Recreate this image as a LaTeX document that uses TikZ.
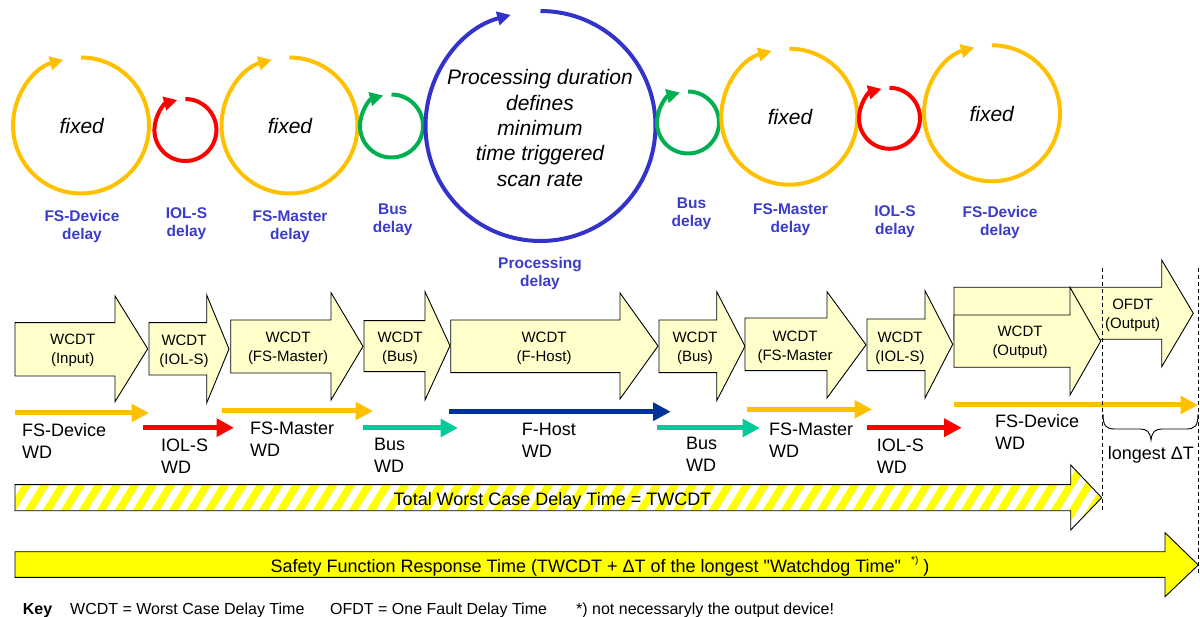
\documentclass[tikz,border=0pt]{standalone}
\usepackage{fontspec}
\setmainfont{Liberation Sans}[Ligatures=TeXOff]
\usetikzlibrary{arrows.meta}

\definecolor{gold}{HTML}{FFC000}
\definecolor{loopred}{HTML}{FF0000}
\definecolor{loopgreen}{HTML}{00B050}
\definecolor{loopblue}{HTML}{3333CC}
\definecolor{labelblue}{HTML}{3B3BCC}
\definecolor{busteal}{HTML}{00CC99}
\definecolor{hostnavy}{HTML}{003399}
\definecolor{paleyellow}{HTML}{FFFFCC}
\definecolor{brightyellow}{HTML}{FFFF00}

\newcommand\fsz[2]{\fontsize{#1}{#2}\selectfont}

% circular "cycle" arrow: name, centre x, centre y, radius, colour
\newcommand\loopcircle[5]{%
  \coordinate (#1) at (#2,#3);
  \draw[loop arrow, #5] ([shift={(90:#4pt)}]#1) arc[start angle=90, end angle=-255, radius=#4pt];
}

% block arrow: style, left, body top, body bottom, head base, head top, head bottom, tip x, tip y
\newcommand\blockarrow[9]{%
  \draw[#1] (#2,#3) -- (#5,#3) -- (#5,#6) -- (#8,#9) -- (#5,#7) -- (#5,#4) -- (#2,#4) -- cycle;
}

\tikzset{
  loop arrow/.style={line width=4pt, -{Triangle[length=13.5pt,width=13.5pt]}},
  delay label/.style={text=labelblue, font=\fsz{15.5}{18}\bfseries, align=center, inner sep=0pt},
  inner italic/.style={font=\fsz{21}{25.3}\itshape, align=center, inner sep=0pt},
  wcdt arrow/.style={draw=black, fill=paleyellow, line width=0.9pt, line join=miter},
  arrow text/.style={font=\fsz{15}{19}, align=center, inner sep=0pt},
  wd arrow/.style={line width=5pt, -{Triangle[length=17.5pt,width=17.5pt]}},
  wd label/.style={font=\fsz{18}{22}, align=left, anchor=west, inner sep=0pt},
  bar text/.style={font=\fsz{18}{22}, anchor=base, inner sep=0pt},
  key text/.style={font=\fsz{16}{19}, anchor=base west, inner sep=0pt},
  guide/.style={line width=0.8pt, dash pattern=on 4pt off 3pt},
}

\begin{document}
\begin{tikzpicture}[x=1pt, y=-1pt]
\useasboundingbox (0,0) rectangle (1200,617);

% ---- delay cycles ----
\loopcircle{fsdev1}{81}{125.5}{68}{gold}
\loopcircle{iols1}{185.4}{130}{31}{loopred}
\loopcircle{fsmas1}{289.5}{125.5}{68}{gold}
\loopcircle{bus1}{391.5}{126}{31.5}{loopgreen}
\loopcircle{proc}{540.5}{126}{115}{loopblue}
\loopcircle{bus2}{688}{122.5}{31}{loopgreen}
\loopcircle{fsmas2}{789.3}{116.7}{68}{gold}
\loopcircle{iols2}{889.5}{118.3}{30.5}{loopred}
\loopcircle{fsdev2}{992}{113.3}{68}{gold}

\node[inner italic] (fx1) at (81.7,126) {fixed};
\node[inner italic] (fx2) at (290,126) {fixed};
\node[inner italic] (fx3) at (790,117.3) {fixed};
\node[inner italic] (fx4) at (991.7,114) {fixed};
\node[inner italic] (proctext) at (540,128) {Processing duration\\defines\\minimum\\time triggered\\scan rate};

\node[delay label] (dl1) at (82,226.5) {FS-Device\\delay};
\node[delay label] (dl2) at (186.5,223.5) {IOL-S\\delay};
\node[delay label] (dl3) at (290,227) {FS-Master\\delay};
\node[delay label] (dl4) at (392.7,220) {Bus\\delay};
\node[delay label] (dl5) at (540,273.5) {Processing\\delay};
\node[delay label] (dl6) at (691.5,214) {Bus\\delay};
\node[delay label] (dl7) at (790.5,220) {FS-Master\\delay};
\node[delay label] (dl8) at (895,221.8) {IOL-S\\delay};
\node[delay label] (dl9) at (1000,222.5) {FS-Device\\delay};

% ---- worst case delay time chain ----
\blockarrow{wcdt arrow}{15}{322.7}{376}{115}{296}{401.7}{147.7}{348.8}
\blockarrow{wcdt arrow}{149}{322.7}{375}{206.7}{295}{403}{229}{349}
\blockarrow{wcdt arrow}{230.7}{320}{373}{331}{292.7}{400}{363}{346.4}
\blockarrow{wcdt arrow}{364}{320.7}{371.7}{425}{291.7}{400}{450}{345.8}
\blockarrow{wcdt arrow}{450.7}{320}{372.7}{620}{293}{399}{658}{346}
\blockarrow{wcdt arrow}{659}{320}{372.7}{716.7}{291.7}{400.7}{745}{346.2}
\blockarrow{wcdt arrow}{745}{318}{370.7}{827}{291.7}{398}{866}{344.8}
\blockarrow{wcdt arrow}{867}{319}{370.7}{925}{290.7}{398}{952.7}{344.3}
\blockarrow{wcdt arrow}{954}{287.3}{339.3}{1161.7}{260}{366.7}{1193.3}{313.3}
\blockarrow{wcdt arrow}{954}{315}{367.3}{1070}{287.3}{395}{1100.7}{341.2}

\node[arrow text] (a1) at (72.7,350.8) {WCDT\\(Input)};
\node[arrow text] (a2) at (184,351) {WCDT\\(IOL-S)};
\node[arrow text] (a3) at (288,348) {WCDT\\(FS-Master)};
\node[arrow text] (a4) at (400,348) {WCDT\\(Bus)};
\node[arrow text] (a5) at (544,348) {WCDT\\(F-Host)};
\node[arrow text] (a6) at (695,348) {WCDT\\(Bus)};
\node[arrow text] (a7) at (795,347.5) {WCDT\\(FS-Master};
\node[arrow text] (a8) at (900,348) {WCDT\\(IOL-S)};
\node[arrow text] (a9) at (1020,342.5) {WCDT\\(Output)};
\node[arrow text] (a10) at (1132.7,315) {OFDT\\(Output)};

% ---- watchdog arrows ----
\draw[wd arrow, gold] (15,413) coordinate (w1s) -- (149,413) coordinate (w1e);
\draw[wd arrow, loopred] (143,427.7) coordinate (w2s) -- (234,427.7) coordinate (w2e);
\draw[wd arrow, gold] (222,411) coordinate (w3s) -- (373,411) coordinate (w3e);
\draw[wd arrow, busteal] (363,428) coordinate (w4s) -- (458,428) coordinate (w4e);
\draw[wd arrow, hostnavy] (449,411.7) coordinate (w5s) -- (670.7,411.7) coordinate (w5e);
\draw[wd arrow, busteal] (657,428) coordinate (w6s) -- (760,428) coordinate (w6e);
\draw[wd arrow, gold] (746.7,409.3) coordinate (w7s) -- (872,409.3) coordinate (w7e);
\draw[wd arrow, loopred] (867,427.7) coordinate (w8s) -- (961.7,427.7) coordinate (w8e);
\draw[wd arrow, gold] (954,405) coordinate (w9s) -- (1198,405) coordinate (w9e);

\node[wd label] (l1) at (22,440.8) {FS-Device\\WD};
\node[wd label] (l2) at (161,455.8) {IOL-S\\WD};
\node[wd label] (l3) at (250,439) {FS-Master\\WD};
\node[wd label] (l4) at (374,455.8) {Bus\\WD};
\node[wd label] (l5) at (521.7,440) {F-Host\\WD};
\node[wd label] (l6) at (686,454.8) {Bus\\WD};
\node[wd label] (l7) at (769,440) {FS-Master\\WD};
\node[wd label] (l8) at (876.7,455.8) {IOL-S\\WD};
\node[wd label] (l9) at (995,432.2) {FS-Device\\WD};

% ---- total worst case delay time (hatched) ----
\begin{scope}
  \clip (15,484.7) -- (1070.7,484.7) -- (1070.7,465) -- (1101.7,497.7) -- (1070.7,530) -- (1070.7,510.7) -- (15,510.7) -- cycle;
  \foreach \k in {0,...,66} \draw[brightyellow, line width=7.5pt] ({-40+18*\k},535) -- ({-40+18*\k+43},465);
\end{scope}
\blockarrow{draw=black, line width=0.9pt, line join=miter}{15}{484.7}{510.7}{1070.7}{465}{530}{1101.7}{497.7}
\node[bar text] (twcdt) at (552.5,505) {Total Worst Case Delay Time = TWCDT};

% ---- safety function response time ----
\blockarrow{wcdt arrow, fill=brightyellow}{15}{551.7}{577.3}{1165}{532.7}{596.7}{1198.3}{565}
\node[bar text] (sfrt) at (600,572) {Safety Function Response Time (TWCDT + ΔT of the longest "Watchdog Time"\ \ \raisebox{0.5em}{\fsz{10}{10}*)} )};

% ---- longest delta T ----
\draw[guide] (1102.7,268) coordinate (g1t) -- (1102.7,512) coordinate (g1b);
\draw[guide] (1198,268) coordinate (g2t) -- (1198,576) coordinate (g2b);
\draw[line width=0.9pt] (1103,414) .. controls (1103,426) and (1106,429) .. (1115,429) -- (1140,429)
  .. controls (1147,429) and (1150,432) .. (1151,440) .. controls (1152,432) and (1155,429) .. (1162,429)
  -- (1186,429) .. controls (1195,429) and (1198,426) .. (1198,414);
\node[bar text] (dt) at (1150.8,460) {longest ΔT};

% ---- key ----
\node[key text, font=\fsz{16}{19}\bfseries] (key) at (22.7,614) {Key};
\node[key text] (k1) at (70,614) {WCDT = Worst Case Delay Time};
\node[key text] (k2) at (330,614) {OFDT = One Fault Delay Time};
\node[key text] (k3) at (576,614) {*) not necessaryly the output device!};
\end{tikzpicture}
\end{document}
